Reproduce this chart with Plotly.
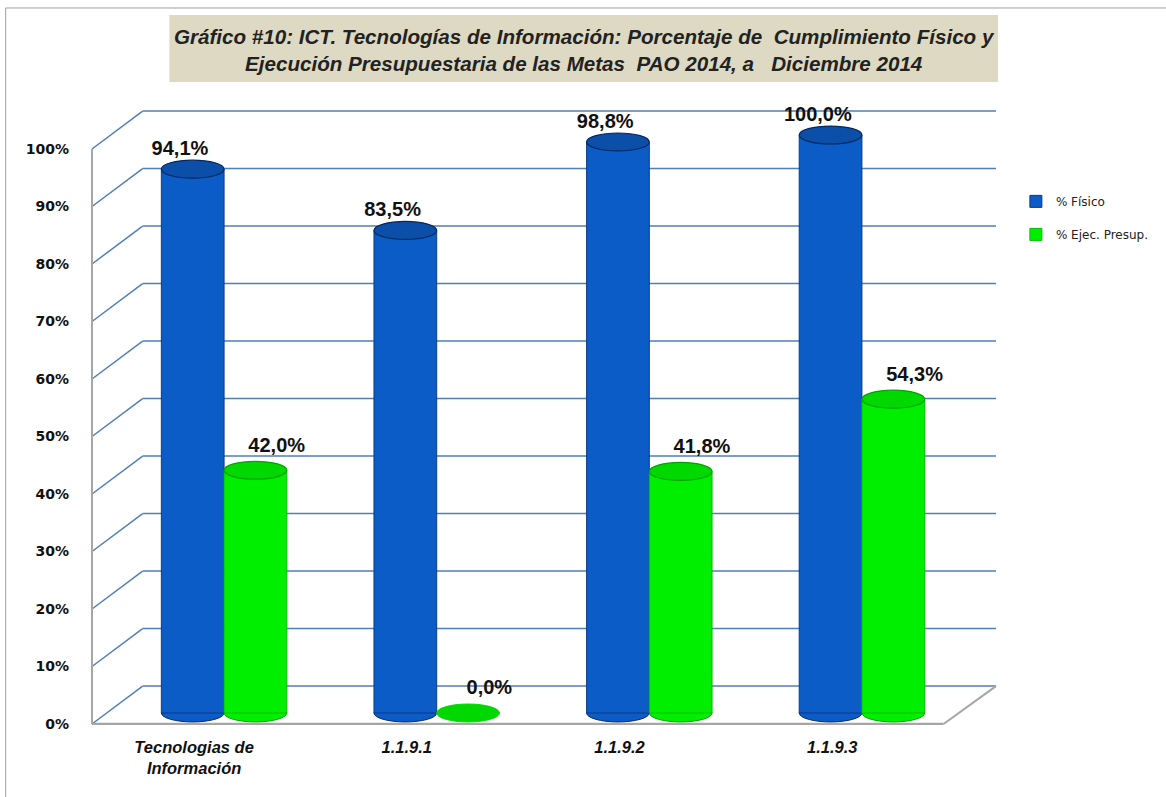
import plotly.graph_objects as go

categories = ["Tecnologias de<br>Información", "1.1.9.1", "1.1.9.2", "1.1.9.3"]
fisico = [94.1, 83.5, 98.8, 100.0]
ejec = [42.0, 0.0, 41.8, 54.3]
y_ticks = [0, 10, 20, 30, 40, 50, 60, 70, 80, 90, 100]
y_tick_labels = [f"{v}%" for v in y_ticks]
series_names = ["% Físico", "% Ejec. Presup."]

BLUE, BLUE_CAP, BLUE_EDGE = "#0b5cc6", "#0c4fa8", "#06275e"
GREEN, GREEN_CAP, GREEN_EDGE = "#00ee00", "#00d800", "#00a400"
GRID = "#4f7fb8"
AXIS = "#a6a6a6"

idx = list(range(len(categories)))
bargap = 0.41
bar_w = (1 - bargap) / 2
depth = 6.6        # back wall offset (in y units)
dx = 0.056         # back wall offset (paper x)
cap_h = 1.55       # half-height of the cylinder caps (y2 units)

fig = go.Figure()
fig.add_trace(go.Bar(name=series_names[0], x=idx, y=fisico, xaxis="x2", yaxis="y2",
                     legendgroup="a",
                     marker=dict(color=BLUE, line=dict(color="#0a3a86", width=1))))
fig.add_trace(go.Bar(name=series_names[1], x=idx, y=ejec, xaxis="x2", yaxis="y2",
                     legendgroup="b",
                     marker=dict(color=GREEN, line=dict(color="#00c000", width=1))))

label_font = dict(family="Liberation Sans, Arial, sans-serif", size=20, color="#111111", weight="bold")
fig.add_trace(go.Scatter(x=[i - bar_w / 2 - 0.06 for i in idx], y=[v + cap_h for v in fisico],
                         xaxis="x2", yaxis="y2", mode="text",
                         text=[f"{v:.1f}%".replace(".", ",") for v in fisico],
                         textposition="top center", textfont=label_font,
                         showlegend=False, hoverinfo="skip", cliponaxis=False))
fig.add_trace(go.Scatter(x=[i + bar_w / 2 + 0.1 for i in idx], y=[v + cap_h + 0.8 for v in ejec],
                         xaxis="x2", yaxis="y2", mode="text",
                         text=[f"{v:.1f}%".replace(".", ",") for v in ejec],
                         textposition="top center", textfont=label_font,
                         showlegend=False, hoverinfo="skip", cliponaxis=False))

shapes = []
# outer border
shapes.append(dict(type="rect", xref="paper", yref="paper", x0=-0.0955, x1=1.3, y0=-0.3, y1=1.1659,
                   line=dict(color="#a0a0a0", width=1), fillcolor="rgba(0,0,0,0)", layer="below"))
# title box
shapes.append(dict(type="rect", xref="paper", yref="paper", x0=0.0856, x1=1.0022, y0=1.0455, y1=1.1545,
                   line=dict(width=0), fillcolor="#ddd9c3", layer="below"))
# back wall gridlines + left wall diagonals
for v in y_ticks:
    shapes.append(dict(type="line", xref="paper", yref="y", x0=dx, x1=1.0, y0=v + depth, y1=v + depth,
                       line=dict(color=GRID, width=1.5), layer="below"))
    shapes.append(dict(type="line", xref="paper", yref="y", x0=0, x1=dx, y0=v, y1=v + depth,
                       line=dict(color=GRID, width=1.5), layer="below"))
# front-left axis line and floor
shapes.append(dict(type="line", xref="paper", yref="y", x0=0, x1=0, y0=0, y1=100,
                   line=dict(color=AXIS, width=2), layer="below"))
shapes.append(dict(type="line", xref="paper", yref="y", x0=0, x1=0.942, y0=0, y1=0,
                   line=dict(color=AXIS, width=2.5), layer="below"))
shapes.append(dict(type="line", xref="paper", yref="y", x0=0.942, x1=1.0, y0=0, y1=depth,
                   line=dict(color=AXIS, width=2), layer="below"))
# cylinder bottoms and caps
for vals, off, body, cap, edge in [(fisico, -bar_w / 2, BLUE, BLUE_CAP, BLUE_EDGE),
                                   (ejec, bar_w / 2, GREEN, GREEN_CAP, GREEN_EDGE)]:
    for i, v in zip(idx, vals):
        cx = i + off
        shapes.append(dict(type="circle", xref="x2", yref="y2",
                           x0=cx - bar_w / 2, x1=cx + bar_w / 2, y0=-cap_h, y1=cap_h,
                           fillcolor=body if v > 0 else cap, line=dict(color=edge if v > 0 else cap, width=1),
                           layer="below" if v > 0 else "above"))
        if v > 0:
            shapes.append(dict(type="circle", xref="x2", yref="y2",
                               x0=cx - bar_w / 2, x1=cx + bar_w / 2, y0=v - cap_h, y1=v + cap_h,
                               fillcolor=cap, line=dict(color=edge, width=1.2), layer="above"))

fig.update_layout(
    width=1166, height=797,
    barmode="group", bargap=bargap, bargroupgap=0.0,
    paper_bgcolor="white", plot_bgcolor="rgba(0,0,0,0)",
    margin=dict(l=92, r=163, t=110, b=72),
    font=dict(family="DejaVu Sans, sans-serif", color="#111111"),
    showlegend=True,
    hovermode=False,
    legend=dict(x=1.022, y=0.875, xanchor="left", yanchor="top",
                font=dict(family="DejaVu Sans, sans-serif", size=12, color="#222222"),
                tracegroupgap=14, itemwidth=30, bgcolor="rgba(0,0,0,0)"),
    xaxis=dict(type="linear", range=[-0.48, 3.77], tickvals=idx, ticktext=categories,
               showgrid=False, showline=False, zeroline=False, ticks="",
               ticklabelstandoff=10,
               tickfont=dict(family="Liberation Sans, Arial, sans-serif",
                             size=16.5, color="#111111", weight="bold", style="italic")),
    yaxis=dict(range=[-0.17, 106.78], tickvals=y_ticks, ticktext=y_tick_labels,
               showgrid=False, showline=False, zeroline=False,
               tickfont=dict(family="DejaVu Sans, Verdana, sans-serif", size=14,
                             color="#111111", weight="bold"),
               ticklabelstandoff=22),
    xaxis2=dict(type="linear", domain=[0.0285, 0.9693], range=[-0.5, 3.5], anchor="y2",
                visible=False, showgrid=False, zeroline=False),
    yaxis2=dict(domain=[0, 1], range=[-2.08, 104.33], anchor="x2",
                visible=False, showgrid=False, zeroline=False),
    shapes=shapes,
    annotations=[
        dict(xref="paper", yref="paper", x=0.5445, y=1.0976, xanchor="center", yanchor="middle",
             text="<b><i>Gráfico #10: ICT. Tecnologías de Información: Porcentaje de  Cumplimiento Físico y<br>"
                  "Ejecución Presupuestaria de las Metas  PAO 2014, a   Diciembre 2014</i></b>",
             showarrow=False, align="center",
             font=dict(family="Liberation Sans, Arial, sans-serif", size=20.6, color="#222222")),
    ],
)

fig.write_html("out.html", config={"displayModeBar": False},
               post_script="document.body.style.margin='0';")
